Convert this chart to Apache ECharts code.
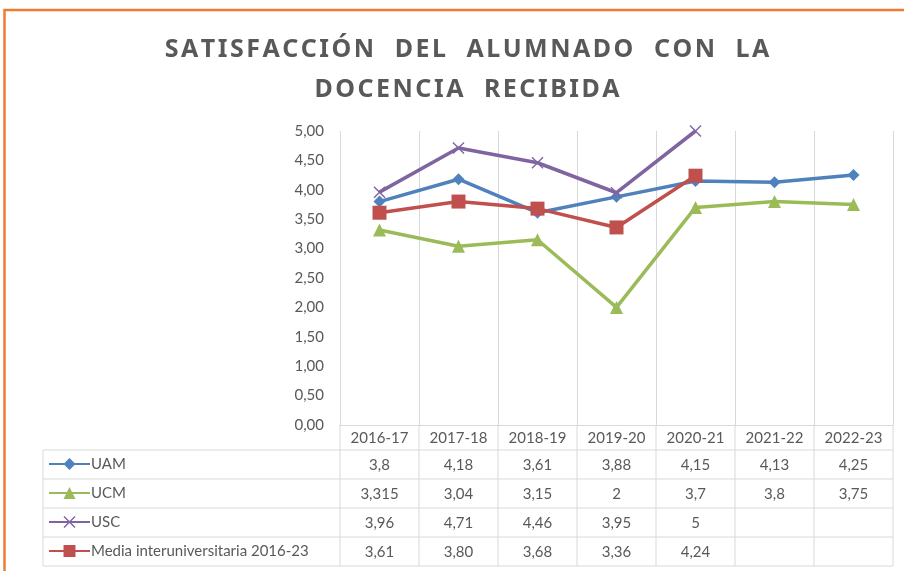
<!DOCTYPE html>
<html>
<head>
<meta charset="utf-8">
<script src="https://cdn.jsdelivr.net/npm/echarts@6/dist/echarts.min.js"></script>
<style>
  html, body { margin: 0; padding: 0; background: #fff; }
  #chart { width: 904px; height: 571px; }
</style>
</head>
<body>
<div id="chart"></div>
<script>
const categories = ['2016-17', '2017-18', '2018-19', '2019-20', '2020-21', '2021-22', '2022-23']
const seriesNames = ['UAM', 'UCM', 'USC', 'Media interuniversitaria 2016-23']
const uam = [3.8, 4.18, 3.61, 3.88, 4.15, 4.13, 4.25]
const ucm = [3.315, 3.04, 3.15, 2, 3.7, 3.8, 3.75]
const usc = [3.96, 4.71, 4.46, 3.95, 5, null, null]
const media = [3.61, 3.80, 3.68, 3.36, 4.24, null, null]
const yTicks = [0, 0.5, 1, 1.5, 2, 2.5, 3, 3.5, 4, 4.5, 5]
const titleLines = ['SATISFACCIÓN  DEL  ALUMNADO  CON  LA', 'DOCENCIA  RECIBIDA']

const TEXT = '#595959'
const GRID_LINE = '#d9d9d9'
const FONT = 'Lato, "Liberation Sans", sans-serif'
const COLORS = ['#4f81bd', '#9bbb59', '#8064a2', '#c0504d']
const X_MARK = 'path://M0,1L1,0L6,5L11,0L12,1L7,6L12,11L11,12L6,7L1,12L0,11L5,6Z'

// table layout (px)
const TABLE_LEFT = 43
const ROW_TOP = 450
const ROW_H = 29

const rows = [
  { name: seriesNames[0], data: uam, symbol: 'diamond', size: 12, fmt: v => String(v) },
  { name: seriesNames[1], data: ucm, symbol: 'triangle', size: 13, fmt: v => String(v) },
  { name: seriesNames[2], data: usc, symbol: X_MARK, size: 12, fmt: v => String(v) },
  { name: seriesNames[3], data: media, symbol: 'rect', size: 14, fmt: v => v.toFixed(2) }
]

// fake letter spacing with hair spaces
const spaced = s => s.split('').join('\u200A')

const chart = echarts.init(document.getElementById('chart'), null, { renderer: 'canvas' })

function buildOption() {
  return {
    backgroundColor: '#ffffff',
    animation: false,
    textStyle: { fontFamily: FONT },
    title: {
      text: titleLines.map(spaced).join('\n'),
      left: 462,
      top: 25,
      textAlign: 'center',
      textStyle: {
        color: TEXT,
        fontFamily: '"Noto Sans", sans-serif',
        fontWeight: 'bold',
        fontSize: 25,
        lineHeight: 40
      }
    },
    legend: rows.map((r, i) => ({
      data: [r.name],
      left: 48,
      top: ROW_TOP + i * ROW_H + ROW_H / 2 - 8,
      padding: 0,
      itemWidth: 41,
      itemHeight: 15,
      itemGap: 3,
      selectedMode: false,
      textStyle: { color: TEXT, fontSize: 15, fontFamily: FONT, padding: [0, 0, 0, -4] }
    })),
    grid: { left: 340, right: 11, top: 131, bottom: 146, containLabel: false },
    xAxis: {
      type: 'category',
      data: categories,
      boundaryGap: true,
      axisLine: { lineStyle: { color: GRID_LINE, width: 1 } },
      axisTick: { show: false },
      axisLabel: { color: TEXT, fontSize: 15, margin: 6, fontFamily: FONT },
      splitLine: { show: true, lineStyle: { color: GRID_LINE, width: 1 } }
    },
    yAxis: {
      type: 'value',
      min: yTicks[0],
      max: yTicks[yTicks.length - 1],
      interval: 0.5,
      axisLine: { show: false },
      axisTick: { show: false },
      splitLine: { show: false },
      axisLabel: {
        color: TEXT,
        fontSize: 15,
        margin: 16,
        fontFamily: FONT,
        formatter: v => v.toFixed(2).replace('.', ',')
      }
    },
    series: rows.map((r, i) => ({
      name: r.name,
      type: 'line',
      data: r.data,
      symbol: r.symbol,
      symbolSize: r.size,
      showSymbol: true,
      color: COLORS[i],
      lineStyle: { width: 3.5, color: COLORS[i] },
      itemStyle: { color: COLORS[i] },
      z: 2 + i
    }))
  }
}

chart.setOption(buildOption())

function buildTable() {
  const xs = categories.map((c, i) => chart.convertToPixel({ xAxisIndex: 0 }, i))
  const band = xs[1] - xs[0]
  const left = xs[0] - band / 2
  const right = xs[xs.length - 1] + band / 2
  const bottomAxis = chart.convertToPixel({ yAxisIndex: 0 }, 0)
  const bottom = ROW_TOP + rows.length * ROW_H
  const els = []
  const line = (x1, y1, x2, y2) => els.push({
    type: 'line', silent: true,
    shape: { x1, y1, x2, y2 },
    style: { stroke: GRID_LINE, lineWidth: 1 }
  })
  // horizontal rules
  for (let r = 0; r <= rows.length; r++) {
    line(TABLE_LEFT, ROW_TOP + r * ROW_H, right, ROW_TOP + r * ROW_H)
  }
  // vertical rules below the axis
  for (let i = 0; i <= categories.length; i++) {
    line(left + i * band, bottomAxis, left + i * band, bottom)
  }
  line(TABLE_LEFT, ROW_TOP, TABLE_LEFT, bottom)
  // cell values
  rows.forEach((r, ri) => {
    r.data.forEach((v, ci) => {
      if (v == null) return
      els.push({
        type: 'text', silent: true,
        x: xs[ci], y: ROW_TOP + ri * ROW_H + ROW_H / 2 + 1,
        style: {
          text: r.fmt(v).replace('.', ','),
          fill: TEXT, font: '15px ' + FONT,
          align: 'center', verticalAlign: 'middle'
        }
      })
    })
  })
  // orange frame
  els.push({
    type: 'rect', silent: true,
    shape: { x: 4.5, y: 10, width: 1200, height: 900 },
    style: { fill: null, stroke: '#ed7d31', lineWidth: 2.5 }
  })
  chart.setOption({ graphic: { elements: els } })
}

buildTable()
</script>
</body>
</html>
